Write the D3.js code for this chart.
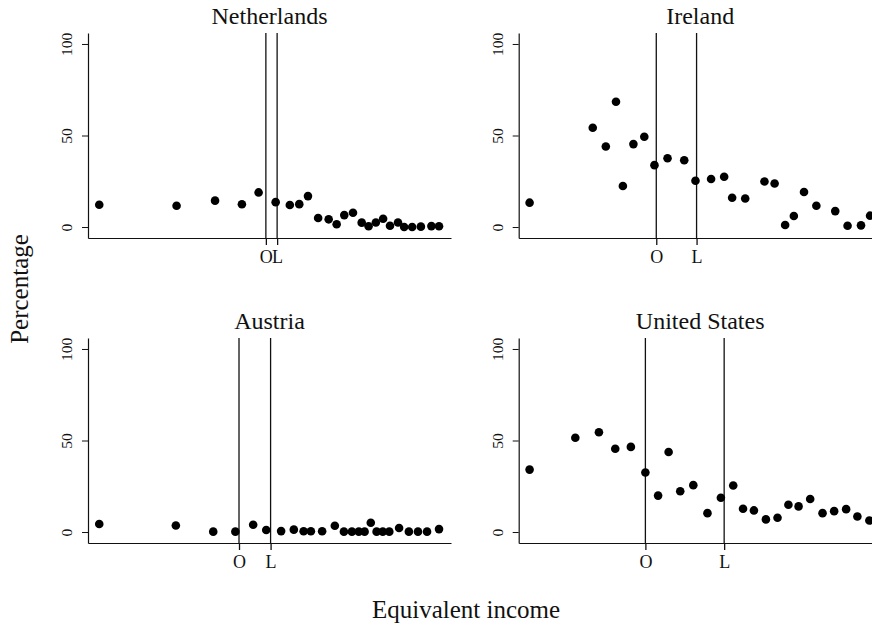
<!DOCTYPE html>
<html>
<head>
<meta charset="utf-8">
<script src="https://cdn.jsdelivr.net/npm/d3@7/dist/d3.min.js"></script>
<style>
  html, body { margin: 0; padding: 0; background: #fff; }
  svg { display: block; font-family: "Times New Roman", "Liberation Serif", serif; }
</style>
</head>
<body>
<svg id="chart" width="872" height="625"></svg>
<script>
// Panel titles
const countries = ["Netherlands", "Ireland", "Austria", "United States"];

// Equivalent income (relative scale 0-100) for each income group
const incomeNetherlands = [3.1, 24.4, 35.0, 42.4, 47.0, 51.7, 55.6, 58.2, 60.6, 63.4, 66.3, 68.5, 70.6, 73.0, 75.4, 77.3, 79.3, 81.3, 83.2, 85.4, 87.1, 89.3, 91.7, 94.6, 96.7];
const incomeIreland = [3.0, 20.4, 24.0, 26.8, 28.7, 31.6, 34.6, 37.4, 41.0, 45.6, 48.7, 53.0, 56.6, 58.8, 62.4, 67.7, 70.5, 73.4, 75.8, 78.6, 82.0, 87.2, 90.6, 94.3, 96.8];
const incomeAustria = [3.1, 24.2, 34.5, 40.6, 45.5, 49.1, 53.2, 56.7, 59.4, 61.4, 64.5, 68.0, 70.5, 72.7, 74.6, 76.2, 77.9, 79.5, 81.2, 83.0, 85.7, 88.4, 90.9, 93.4, 96.7];
const incomeUnitedStates = [3.0, 15.6, 22.1, 26.6, 30.9, 34.9, 38.4, 41.3, 44.5, 48.1, 52.0, 55.7, 59.1, 61.8, 64.8, 68.1, 71.3, 74.3, 77.1, 80.3, 83.7, 86.9, 90.2, 93.3, 96.6];

// Percentage for each income group
const pctNetherlands = [12.2, 11.6, 14.4, 12.4, 18.9, 13.6, 12.0, 12.5, 16.9, 4.9, 4.2, 1.5, 6.5, 7.8, 2.4, 0.4, 2.5, 4.5, 0.7, 2.5, 0.0, 0.0, 0.2, 0.5, 0.4];
const pctIreland = [13.3, 54.2, 44.0, 68.4, 22.4, 45.3, 49.3, 33.8, 37.6, 36.5, 25.3, 26.2, 27.5, 16.0, 15.6, 24.9, 23.8, 1.1, 6.0, 19.1, 11.6, 8.7, 0.7, 0.9, 6.2];
const pctAustria = [4.4, 3.6, 0.2, 0.2, 4.0, 1.1, 0.5, 1.3, 0.4, 0.4, 0.4, 3.4, 0.2, 0.2, 0.2, 0.2, 5.1, 0.2, 0.2, 0.2, 2.2, 0.2, 0.2, 0.2, 1.6];
const pctUnitedStates = [34.1, 51.5, 54.5, 45.5, 46.5, 32.5, 19.9, 43.7, 22.3, 25.6, 10.3, 18.7, 25.4, 12.7, 11.8, 6.9, 7.8, 14.9, 14.0, 18.0, 10.3, 11.4, 12.5, 8.5, 6.3];

// Reference incomes marked O and L
const markO = [49.0, 37.9, 41.6, 34.9];
const markL = [52.1, 49.0, 50.3, 56.6];
const markLabels = ["O", "L"];

// Y-axis tick values
const yTicks = [0, 50, 100];

const incomes = [incomeNetherlands, incomeIreland, incomeAustria, incomeUnitedStates];
const pcts = [pctNetherlands, pctIreland, pctAustria, pctUnitedStates];

const svg = d3.select("#chart");

const plotW = 363, plotH = 205;
const lefts = [88, 518.7];
const tops = [33, 338];

const x = d3.scaleLinear().domain([0, 100]).range([0, plotW]);
const y = d3.scaleLinear().domain([-6, 106]).range([plotH, 0]);

countries.forEach((name, i) => {
  const col = i % 2, row = Math.floor(i / 2);
  const g = svg.append("g")
    .attr("transform", `translate(${lefts[col]},${tops[row]})`);

  // title
  g.append("text")
    .attr("x", plotW / 2)
    .attr("y", -9)
    .attr("text-anchor", "middle")
    .attr("font-size", 24)
    .attr("fill", "#111")
    .text(name);

  // y axis
  const yAxis = d3.axisLeft(y).tickValues(yTicks).tickSize(6).tickSizeOuter(0).tickPadding(0);
  const ya = g.append("g").call(yAxis);
  ya.select(".domain").attr("stroke", "#111").attr("stroke-width", 1.2);
  ya.selectAll(".tick line").attr("stroke", "#111");
  ya.selectAll(".tick text")
    .attr("font-family", "'Times New Roman', 'Liberation Serif', serif")
    .attr("font-size", 15.5)
    .attr("fill", "#111")
    .attr("transform", "rotate(-90)")
    .attr("x", 0)
    .attr("y", -21)
    .attr("dy", "0.35em")
    .attr("text-anchor", "middle");

  // x axis with O / L marks
  const marks = [markO[i], markL[i]];
  const xAxis = d3.axisBottom(x).tickValues(marks)
    .tickFormat((d, k) => markLabels[k])
    .tickSize(7).tickSizeOuter(0).tickPadding(5);
  const xa = g.append("g").attr("transform", `translate(0,${plotH})`).call(xAxis);
  xa.select(".domain").attr("stroke", "#111").attr("stroke-width", 1.2);
  xa.selectAll(".tick line").attr("stroke", "#111").attr("stroke-width", 1.3);
  xa.selectAll(".tick text")
    .attr("font-family", "'Times New Roman', 'Liberation Serif', serif")
    .attr("font-size", 18)
    .attr("fill", "#111");

  // vertical reference lines
  g.selectAll("line.ref").data(marks).join("line")
    .attr("class", "ref")
    .attr("x1", d => x(d)).attr("x2", d => x(d))
    .attr("y1", 0).attr("y2", plotH)
    .attr("stroke", "#111").attr("stroke-width", 1.3);

  // points
  g.selectAll("circle").data(incomes[i].map((v, k) => [v, pcts[i][k]])).join("circle")
    .attr("cx", d => x(d[0]))
    .attr("cy", d => y(d[1]))
    .attr("r", 4.3)
    .attr("fill", "#000");
});

// axis titles
svg.append("text")
  .attr("transform", "translate(27.5,289) rotate(-90)")
  .attr("text-anchor", "middle")
  .attr("font-size", 25)
  .attr("fill", "#111")
  .text("Percentage");

svg.append("text")
  .attr("x", 466)
  .attr("y", 618)
  .attr("text-anchor", "middle")
  .attr("font-size", 25)
  .attr("fill", "#111")
  .text("Equivalent income");
</script>
</body>
</html>
